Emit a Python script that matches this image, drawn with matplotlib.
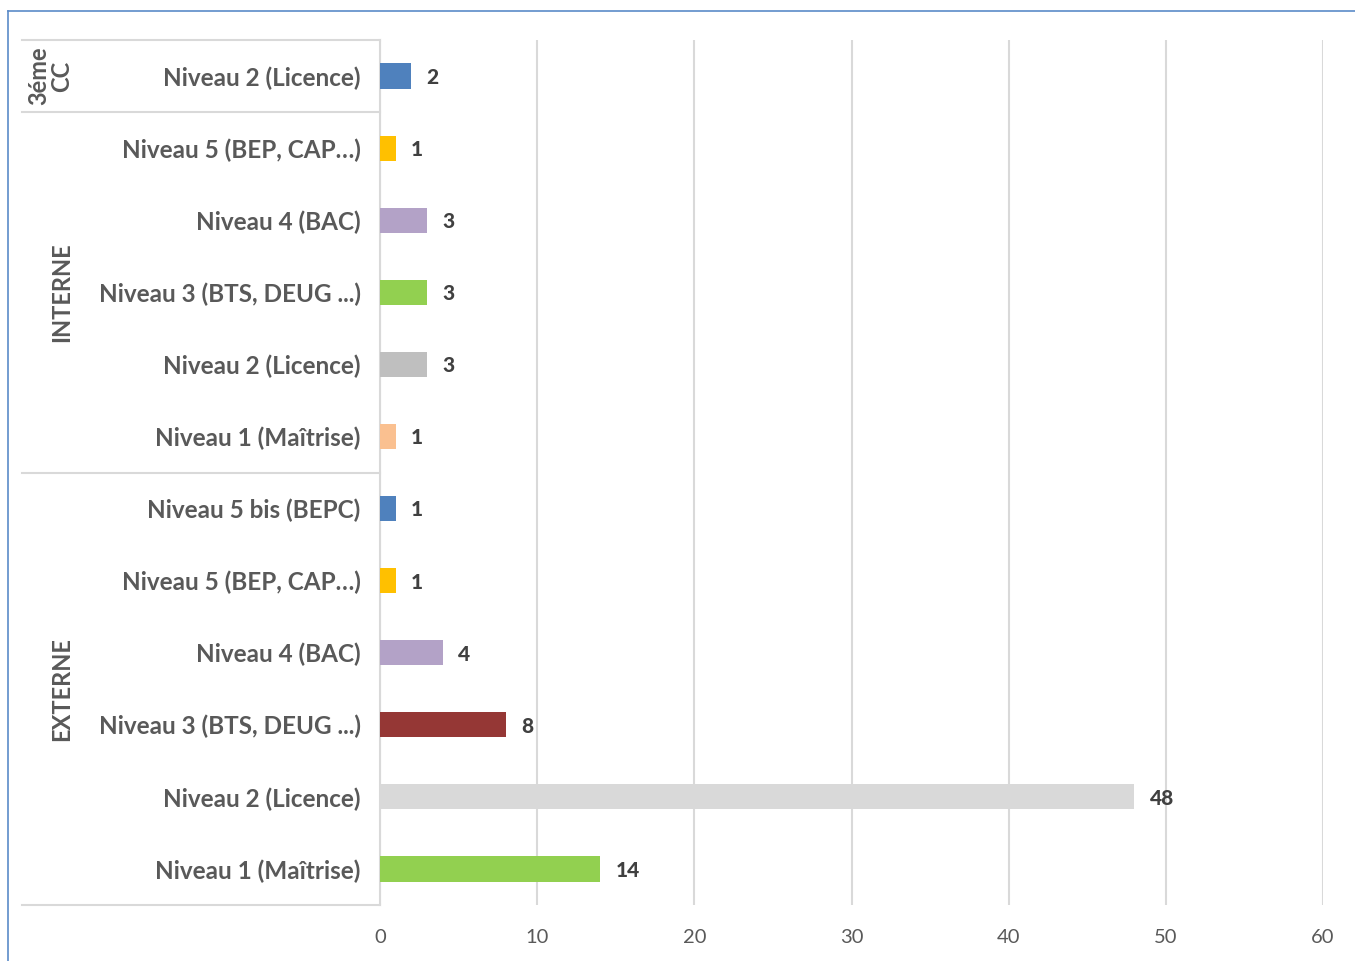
import matplotlib
matplotlib.use("Agg")
import matplotlib.pyplot as plt
from matplotlib.lines import Line2D
import matplotlib.transforms as mtransforms

plt.rcParams['font.family'] = ['Lato', 'DejaVu Sans']

categories = ["Niveau 2 (Licence)",
              "Niveau 5 (BEP, CAP…)", "Niveau 4 (BAC)", "Niveau 3 (BTS, DEUG ...)",
              "Niveau 2 (Licence)", "Niveau 1 (Maîtrise)",
              "Niveau 5 bis (BEPC)", "Niveau 5 (BEP, CAP…)", "Niveau 4 (BAC)",
              "Niveau 3 (BTS, DEUG ...)", "Niveau 2 (Licence)", "Niveau 1 (Maîtrise)"]
values = [2, 1, 3, 3, 3, 1, 1, 1, 4, 8, 48, 14]
colors = ["#4F81BD", "#FFC000", "#B3A2C7", "#92D050", "#BFBFBF", "#FAC090",
          "#4F81BD", "#FFC000", "#B3A2C7", "#953735", "#D9D9D9", "#92D050"]
groups = ["3éme\nCC", "INTERNE", "EXTERNE"]
group_sizes = [1, 5, 6]
xticks = [0, 10, 20, 30, 40, 50, 60]

W, H = 1355, 961
fig = plt.figure(figsize=(W / 100, H / 100), dpi=100)
ax = fig.add_axes([380 / W, 1 - 905 / H, (1323 - 380) / W, (905 - 40) / H])

y = list(range(len(categories)))
ax.barh(y, values, height=0.35, color=colors, zorder=3)
ax.set_xlim(0, 60)
ax.set_ylim(len(categories) - 0.5, -0.5)
ax.set_xticks(xticks)
ax.set_xticklabels([str(t) for t in xticks], fontsize=14.5, color="#595959")
ax.set_yticks(y)
ax.set_yticklabels(categories, fontsize=17.5, fontweight="bold", color="#595959")
ax.tick_params(axis="both", length=0)
ax.tick_params(axis="y", pad=14)
ax.tick_params(axis="x", pad=17)
ax.grid(axis="x", color="#D9D9D9", linewidth=1.5, zorder=0)
for s in ["top", "right", "bottom"]:
    ax.spines[s].set_visible(False)
ax.spines["left"].set_color("#D9D9D9")
ax.spines["left"].set_linewidth(1.5)

for yi, v in zip(y, values):
    ax.annotate(str(v), (v, yi), xytext=(11, -1), textcoords="offset points",
                ha="left", va="center", fontsize=15, fontweight="black", color="#404040")

# group separators and labels
tr = mtransforms.blended_transform_factory(fig.transFigure, ax.transData)
x0, x1 = 22 / W, 380 / W
bounds = [-0.5]
for n in group_sizes:
    bounds.append(bounds[-1] + n)
for b in bounds:
    fig.add_artist(Line2D([x0, x1], [b, b], transform=tr, color="#D9D9D9", linewidth=1.5))
for g, a, b in zip(groups, bounds[:-1], bounds[1:]):
    xg = 50 / W if "\n" in g else 62 / W
    fig.text(xg, (a + b) / 2, g, transform=tr, rotation=90, ha="center", va="center",
             fontsize=17, fontweight="bold", color="#595959", linespacing=1.0)

# outer border (blue)
fig.add_artist(Line2D([8 / W, 8 / W], [0, 1 - 11 / H], transform=fig.transFigure,
                      color="#5B8BC8", linewidth=1.2))
fig.add_artist(Line2D([8 / W, 1], [1 - 11 / H, 1 - 11 / H], transform=fig.transFigure,
                      color="#5B8BC8", linewidth=1.2))

fig.savefig("out.png", dpi=100)
